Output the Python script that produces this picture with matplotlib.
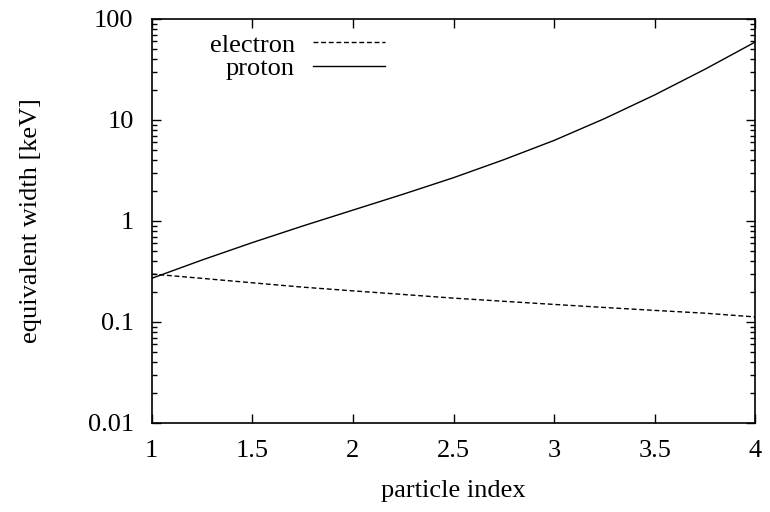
import numpy as np
import matplotlib
matplotlib.use('Agg')
import matplotlib.pyplot as plt
from matplotlib.ticker import LogLocator, FixedLocator, NullFormatter, FuncFormatter

plt.rcParams['font.family'] = ['Liberation Serif', 'DejaVu Serif']

# values
particle_index = [1.0, 1.25, 1.5, 1.75, 2.0, 2.25, 2.5, 2.75, 3.0, 3.25, 3.5, 3.75, 4.0]
electron = [0.298, 0.27, 0.244, 0.221, 0.203, 0.187, 0.172, 0.160, 0.149, 0.139, 0.130, 0.122, 0.112]
proton = [0.27, 0.41, 0.61, 0.89, 1.28, 1.84, 2.68, 4.04, 6.27, 10.3, 17.7, 31.8, 59.2]

x_ticks = [1, 1.5, 2, 2.5, 3, 3.5, 4]
y_ticks = [0.01, 0.1, 1, 10, 100]

FS = 19

fig = plt.figure(figsize=(7.7, 5.12), dpi=100)
ax = fig.add_axes([0.197, 0.174, 0.784, 0.789])

ax.plot(particle_index, electron, color='black', lw=1.0, dashes=(3.5, 2.0), label='electron')
ax.plot(particle_index, proton, color='black', lw=1.0, label='proton')

ax.set_yscale('log')
ax.set_xlim(1, 4)
ax.set_ylim(0.01, 100)

ax.xaxis.set_major_locator(FixedLocator(x_ticks))
ax.xaxis.set_major_formatter(FuncFormatter(lambda v, p: '%g' % v))
ax.yaxis.set_major_locator(FixedLocator(y_ticks))
ax.yaxis.set_major_formatter(FuncFormatter(lambda v, p: '%g' % v))
ax.yaxis.set_minor_locator(LogLocator(base=10, subs=np.arange(2, 10)))
ax.yaxis.set_minor_formatter(NullFormatter())

ax.tick_params(which='both', direction='in', top=True, right=True, labelsize=FS, width=1.0)
ax.tick_params(axis='y', pad=13)
ax.tick_params(axis='x', pad=12)
ax.tick_params(which='major', length=6.5)
ax.tick_params(which='minor', length=3.5)
for s in ax.spines.values():
    s.set_linewidth(1.2)

ax.set_xlabel('particle index', fontsize=FS, labelpad=13.5)
ax.set_ylabel('equivalent width [keV]', fontsize=FS, labelpad=33)

ax.legend(frameon=False, markerfirst=False, loc='upper right', bbox_to_anchor=(0.387, 0.965),
          fontsize=FS, handlelength=2.75, handletextpad=0.68, labelspacing=0.0,
          borderpad=0.0, borderaxespad=0.0)

fig.savefig('out.png', dpi=100)
